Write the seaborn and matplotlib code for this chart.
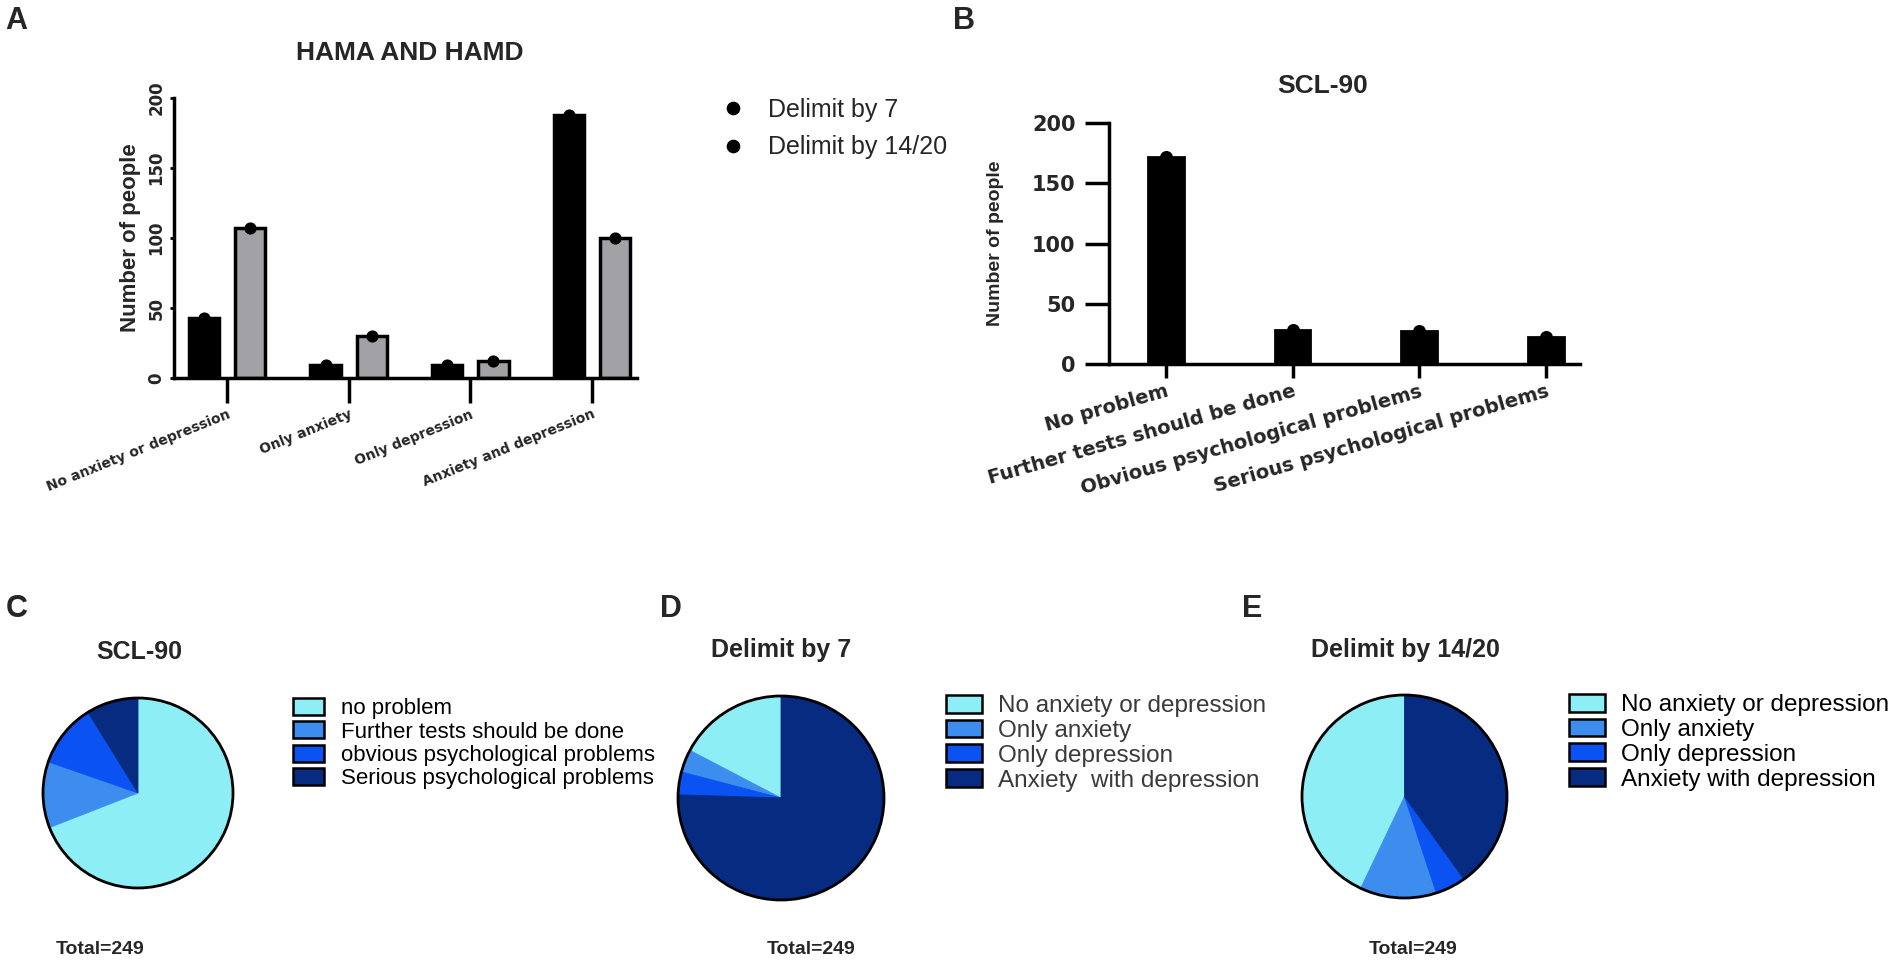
import numpy as np
import pandas as pd
import matplotlib
matplotlib.use("Agg")
import matplotlib.pyplot as plt
import seaborn as sns
from matplotlib.lines import Line2D
from matplotlib.patches import Patch

# ---------------- data ----------------
hama_categories = ["No anxiety or depression", "Only anxiety", "Only depression", "Anxiety and depression"]
hama_series = ["Delimit by 7", "Delimit by 14/20"]
delimit7_counts = [43, 9, 9, 188]
delimit1420_counts = [107, 30, 12, 100]

scl_categories = ["No problem", "Further tests should be done",
                  "Obvious psychological problems", "Serious psychological problems"]
scl_counts = [172, 28, 27, 22]

pie_c_labels = ["no problem", "Further tests should be done",
                "obvious psychological problems", "Serious psychological problems"]
pie_c_values = [172, 28, 27, 22]
pie_d_labels = ["No anxiety or depression", "Only anxiety", "Only depression", "Anxiety  with depression"]
pie_d_values = [43, 9, 9, 188]
pie_e_labels = ["No anxiety or depression", "Only anxiety", "Only depression", "Anxiety with depression"]
pie_e_values = [107, 30, 12, 100]
total_text = "Total=249"

pie_colors = ["#8DEEF5", "#3D8DEF", "#0A52F2", "#062B80"]

# ---------------- figure ----------------
sns.set_theme(style="white")
plt.rcParams["font.family"] = ["Liberation Sans", "DejaVu Sans"]
plt.rcParams["axes.linewidth"] = 2.0

W, H = 1902, 976
fig = plt.figure(figsize=(W / 100, H / 100), dpi=100)
fig.patch.set_facecolor("white")


def rect(x0, y0, x1, y1):
    return [x0 / W, 1 - y1 / H, (x1 - x0) / W, (y1 - y0) / H]


def ftext(x, y, s, **kw):
    fig.text(x / W, 1 - y / H, s, **kw)


BOLDWIDE = dict(fontfamily="DejaVu Sans", fontweight="bold")

# ---------------- panel A ----------------
dfA = pd.DataFrame({
    "category": hama_categories * 2,
    "count": delimit7_counts + delimit1420_counts,
    "series": [hama_series[0]] * 4 + [hama_series[1]] * 4,
})
axA = fig.add_axes(rect(174, 98, 637, 378))
sns.barplot(data=dfA, x="category", y="count", hue="series", order=hama_categories,
            hue_order=hama_series, palette=["black", "#A2A2A6"], saturation=1,
            width=0.76, gap=0.34, edgecolor="black", linewidth=2.5,
            errorbar=None, legend=False, ax=axA)
for p in list(axA.patches):
    axA.scatter(p.get_x() + p.get_width() / 2, p.get_height(), s=60, color="black",
                zorder=5, clip_on=False)
axA.set_xlim(-0.436, 3.37)
axA.set_ylim(0, 200)
axA.set_yticks([0, 50, 100, 150, 200])
sns.despine(ax=axA)
for s in ["left", "bottom"]:
    axA.spines[s].set_linewidth(2.5)
    axA.spines[s].set_color("black")
axA.tick_params(axis="x", length=18, width=2.5, color="black", direction="out", pad=3, bottom=True)
axA.tick_params(axis="y", length=3, width=2, color="black", direction="out", pad=3, left=True)
axA.set_xlabel("")
axA.set_ylabel("Number of people", fontsize=16, fontweight="bold", labelpad=5)
for lab in axA.get_xticklabels():
    lab.set(rotation=22, ha="right", va="top", rotation_mode="anchor", fontsize=10, **BOLDWIDE)
for lab in axA.get_yticklabels():
    lab.set(rotation=90, va="center", fontsize=12, **BOLDWIDE)
ftext(410, 53, "HAMA AND HAMD", ha="center", va="center", fontsize=19, fontweight="bold")

legA = [Line2D([], [], marker="o", ls="", color="black", markersize=8.8) for _ in hama_series]
fig.legend(legA, hama_series, loc="upper left", bbox_to_anchor=(720 / W, 1 - 98 / H),
           frameon=False, fontsize=18, handlelength=1.0, handletextpad=0.9,
           labelspacing=0.53, borderpad=0, borderaxespad=0)

# ---------------- panel B ----------------
dfB = pd.DataFrame({"category": scl_categories, "count": scl_counts})
axB = fig.add_axes(rect(1109, 123, 1580, 364))
sns.barplot(data=dfB, x="category", y="count", order=scl_categories, color="black",
            saturation=1, width=0.28, edgecolor="black", linewidth=2,
            errorbar=None, ax=axB)
for p in list(axB.patches):
    axB.scatter(p.get_x() + p.get_width() / 2, p.get_height(), s=70, color="black",
                zorder=5, clip_on=False)
axB.set_xlim(-0.449, 3.27)
axB.set_ylim(0, 200)
axB.set_yticks([0, 50, 100, 150, 200])
sns.despine(ax=axB)
for s in ["left", "bottom"]:
    axB.spines[s].set_linewidth(2.5)
    axB.spines[s].set_color("black")
axB.tick_params(axis="x", length=10, width=2.5, color="black", direction="out", pad=3, bottom=True)
axB.tick_params(axis="y", length=17, width=2.5, color="black", direction="out", pad=7, left=True)
axB.set_xlabel("")
axB.set_ylabel("Number of people", fontsize=14, fontweight="bold", labelpad=20)
for lab in axB.get_xticklabels():
    lab.set(rotation=16, ha="right", va="top", rotation_mode="anchor", fontsize=14, **BOLDWIDE)
for lab in axB.get_yticklabels():
    lab.set(fontsize=15, **BOLDWIDE)
ftext(1323, 86, "SCL-90", ha="center", va="center", fontsize=19, fontweight="bold")

# ---------------- pies ----------------
def draw_pie(box, values, counterclock):
    ax = fig.add_axes(rect(*box))
    wedges, _ = ax.pie(values, colors=pie_colors, startangle=90, counterclock=counterclock,
                       wedgeprops=dict(linewidth=0.6))
    for w in wedges:
        w.set_edgecolor(w.get_facecolor())
        w.set_clip_on(False)
    outline, _ = ax.pie([1], colors=["white"], startangle=90,
                        wedgeprops=dict(fill=False, linewidth=2))
    for w in outline:
        w.set_edgecolor("black")
        w.set_clip_on(False)
    ax.set_aspect("auto")
    ax.set_xlim(-1, 1)
    ax.set_ylim(-1, 1)
    ax.axis("off")
    return ax


def pie_legend(labels, x, y, fontsize, hl, hh, pad, color):
    handles = [Patch(facecolor=c, edgecolor="black", linewidth=1.8) for c in pie_colors]
    fig.legend(handles, labels, loc="upper left", bbox_to_anchor=(x / W, 1 - y / H),
               frameon=False, fontsize=fontsize, handlelength=hl, handleheight=hh,
               handletextpad=pad, labelspacing=0.1, borderpad=0, borderaxespad=0,
               labelcolor=color)


draw_pie((43, 698, 233, 888), pie_c_values, counterclock=False)
ftext(139, 652, "SCL-90", ha="center", va="center", fontsize=18, fontweight="bold")
pie_legend(pie_c_labels, 293, 698, 16, 1.4, 0.79, 0.75, "black")
ftext(100, 950, total_text, ha="center", va="center", fontsize=14, fontweight="bold")

draw_pie((678, 696, 884, 900), pie_d_values, counterclock=True)
ftext(781, 650, "Delimit by 7", ha="center", va="center", fontsize=18, fontweight="bold")
pie_legend(pie_d_labels, 946, 695, 17.5, 1.48, 0.74, 0.66, "#3a3a3a")
ftext(811, 950, total_text, ha="center", va="center", fontsize=14, fontweight="bold")

draw_pie((1302, 695, 1507, 898), pie_e_values, counterclock=True)
ftext(1405, 650, "Delimit by 14/20", ha="center", va="center", fontsize=18, fontweight="bold")
pie_legend(pie_e_labels, 1569, 694, 17.5, 1.48, 0.74, 0.66, "black")
ftext(1413, 950, total_text, ha="center", va="center", fontsize=14, fontweight="bold")

# ---------------- panel letters ----------------
for letter, x, y in [("A", 5, 21), ("B", 953, 21), ("C", 6, 609), ("D", 660, 609), ("E", 1242, 609)]:
    ftext(x, y, letter, ha="left", va="center", fontsize=22, fontweight="bold")

fig.savefig("out.png", dpi=100, facecolor="white")
